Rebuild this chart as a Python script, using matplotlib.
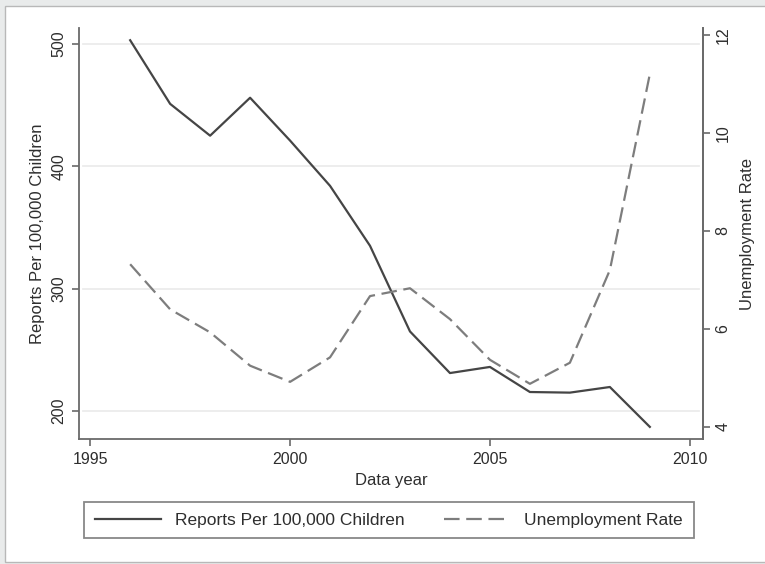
import matplotlib
matplotlib.use("Agg")
import matplotlib.pyplot as plt
from matplotlib.patches import Rectangle

years = [1996, 1997, 1998, 1999, 2000, 2001, 2002, 2003, 2004, 2005, 2006, 2007, 2008, 2009]
reports = [503, 451, 425, 456, 421, 384, 335, 265, 231, 236, 215.5, 215, 219.6, 187]
unemployment = [7.32, 6.4, 5.93, 5.25, 4.92, 5.42, 6.67, 6.83, 6.2, 5.37, 4.88, 5.31, 7.2, 11.2]

x_ticks = [1995, 2000, 2005, 2010]
left_ticks = [200, 300, 400, 500]
right_ticks = [4, 6, 8, 10, 12]

plt.rcParams['font.family'] = ['Liberation Sans', 'DejaVu Sans']
plt.rcParams['font.size'] = 12

W, H = 765, 564
fig = plt.figure(figsize=(W / 100, H / 100), dpi=100)
fig.patch.set_facecolor('#e9ebeb')
fig.add_artist(Rectangle((5 / W, 2 / H), 1.0, (H - 8) / H, transform=fig.transFigure,
                         facecolor='white', edgecolor='#b8b8b8', linewidth=1.0, zorder=0))

ax = fig.add_axes([79 / W, (H - 439) / H, (703 - 79) / W, (439 - 28) / H])
ax.set_facecolor('white')
ax.set_xlim(1994.72, 2010.33)
ax.set_ylim(177.1, 513.0)
spine_c = '#6a6a6a'
text_c = '#2e2e2e'
ax.spines['top'].set_visible(False)
for s in ['left', 'bottom', 'right']:
    ax.spines[s].set_color(spine_c)
    ax.spines[s].set_linewidth(1.3)

for v in left_ticks:
    ax.axhline(v, color='#ececec', linewidth=1.3, zorder=0, xmin=0.006, xmax=0.994)

l1, = ax.plot(years, reports, color='#454545', linewidth=1.6, label='Reports Per 100,000 Children', zorder=3)
ax.set_xticks(x_ticks)
ax.set_yticks(left_ticks)
ax.set_yticklabels([str(v) for v in left_ticks], rotation=90, va='center')
ax.tick_params(axis='both', colors=spine_c, labelcolor=text_c, length=5, width=1.2, labelsize=11.5, pad=4)
ax.set_xlabel('Data year', color=text_c, fontsize=12, labelpad=5)
ax.set_ylabel('Reports Per 100,000 Children', color=text_c, fontsize=12, labelpad=5)

ax2 = ax.twinx()
ax2.set_ylim(3.754, 12.14)
for s in ['top', 'left', 'bottom']:
    ax2.spines[s].set_visible(False)
ax2.spines['right'].set_color(spine_c)
ax2.spines['right'].set_linewidth(1.3)
l2, = ax2.plot(years, unemployment, color='#7d7d7d', linewidth=1.6, dashes=(7, 3),
               label='Unemployment Rate', zorder=3)
ax2.set_yticks(right_ticks)
ax2.set_yticklabels([str(v) for v in right_ticks], rotation=90, va='center')
ax2.tick_params(axis='y', colors=spine_c, labelcolor=text_c, length=5, width=1.2, labelsize=11.5, pad=4)
ax2.set_ylabel('Unemployment Rate', color=text_c, fontsize=12, labelpad=7)

leg = fig.legend(handles=[l1, l2], loc='center', ncol=2,
                 bbox_to_anchor=(389 / W, (H - 520) / H),
                 fancybox=False, edgecolor='#6a6a6a', frameon=True, fontsize=12.5,
                 handlelength=3.8, handletextpad=0.8, columnspacing=2.3,
                 borderaxespad=0, borderpad=0.62)
leg.get_frame().set_linewidth(1.3)
for t in leg.get_texts():
    t.set_color(text_c)

fig.savefig('out.png', dpi=100, facecolor=fig.get_facecolor())
